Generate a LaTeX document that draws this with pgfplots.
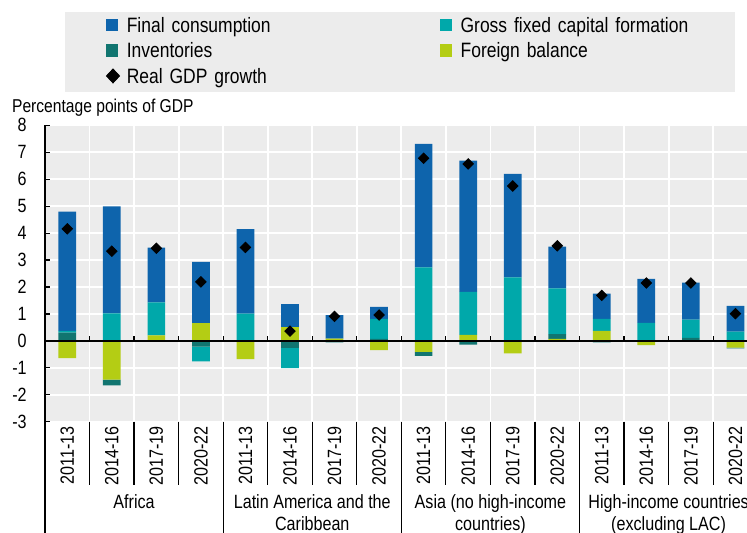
\documentclass[border=0pt]{standalone}
\usepackage{fontspec}
\setmainfont{Liberation Sans}[FakeStretch=0.84]
\usepackage{pgfplots}
\usepackage{pgfplotstable}
\pgfplotsset{compat=1.18}

\definecolor{fcblue}{HTML}{0E64AC}
\definecolor{gfcfteal}{HTML}{00A8AA}
\definecolor{invteal}{HTML}{117570}
\definecolor{fbgreen}{HTML}{B4CD14}
\definecolor{panelgray}{HTML}{ECECEC}

% contributions split into positive and negative parts (separate stacks)
\pgfplotstableread{
x  FCp  GFCFp GFCFn Invp Invn  FBp  FBn   GDP
0  4.43 0.06  0     0.31 0     0    -0.64 4.16
1  3.97 1.02  0     0    -0.21 0    -1.44 3.33
2  2.03 1.23  0     0    0     0.20 0     3.44
3  2.27 0     -0.55 0    -0.21 0.66 0     2.19
4  3.14 1.01  0     0    0     0    -0.68 3.47
5  0.85 0     -0.75 0    -0.26 0.51 0     0.36
6  0.88 0     0     0    -0.06 0.08 0     0.91
7  0.44 0.75  0     0.07 0     0    -0.34 0.96
8  4.58 2.73  0     0    -0.15 0    -0.41 6.78
9  4.87 1.60  0     0    -0.14 0.22 0     6.57
10 3.84 2.36  0     0    0     0    -0.46 5.75
11 1.55 1.70  0     0.18 0     0.07 0     3.53
12 0.93 0.45  0     0    -0.06 0.37 0     1.69
13 1.63 0.67  0     0    0     0    -0.16 2.15
14 1.37 0.68  0     0.11 0     0    0     2.15
15 0.96 0.34  0     0    -0.03 0    -0.25 1.01
}\data

\newcommand{\lab}{\fontsize{9.6}{11}\selectfont}
\newcommand{\leg}{\fontsize{10.4}{12}\selectfont}
\pgfplotsset{
  base/.style={scale only axis, width=351pt, height=148.15pt,
    xmin=-0.5, xmax=15.26, ymin=-3, ymax=8,
    at={(0pt,0pt)}, anchor=south west},
}

\begin{document}
\begin{tikzpicture}[font=\lab]
\fill[panelgray] (10pt,164.85pt) rectangle (345pt,204.85pt);
\node[anchor=base west, inner sep=0pt, font=\fontsize{9.3}{11}\selectfont] at (-16.65pt,154.35pt) {Percentage points of GDP};

% panel, grid, ticks and positive parts
\begin{axis}[base, ybar stacked, bar width=8.85pt,
  axis background/.style={fill=panelgray},
  axis line style={draw=none},
  xtick={0,...,15},
  xticklabels={2011-13,2014-16,2017-19,2020-22,2011-13,2014-16,2017-19,2020-22,
               2011-13,2014-16,2017-19,2020-22,2011-13,2014-16,2017-19,2020-22},
  xticklabel style={rotate=90, anchor=east, inner sep=2.2pt, font=\lab},
  xtick style={draw=none},
  minor xtick={-0.5,0.5,...,14.5},
  xminorgrids, ymajorgrids,
  minor tick length=0pt,
  minor grid style={white, line width=0.9pt},
  major grid style={white, line width=0.9pt},
  ytick={-3,...,8},
  yticklabels={-3,-2,-1,0,1,2,3,4,5,6,7,8},
  yticklabel style={anchor=east, inner sep=0pt, xshift=-9pt, font=\lab},
  tick pos=left, tick align=inside, major tick length=2.5pt,
  ytick style={black, line width=0.6pt},
]
\addplot[fill=fbgreen, draw=none] table[x=x,y=FBp]{\data};
\addplot[fill=invteal, draw=none] table[x=x,y=Invp]{\data};
\addplot[fill=gfcfteal, draw=none] table[x=x,y=GFCFp]{\data};
\addplot[fill=fcblue, draw=none] table[x=x,y=FCp]{\data};
\end{axis}

% negative parts
\begin{axis}[base, ybar stacked, bar width=8.85pt, hide axis]
\addplot[fill=fbgreen, draw=none] table[x=x,y=FBn]{\data};
\addplot[fill=invteal, draw=none] table[x=x,y=Invn]{\data};
\addplot[fill=gfcfteal, draw=none] table[x=x,y=GFCFn]{\data};
\end{axis}

% axis lines, separators, group labels, GDP markers, legend
\begin{axis}[base, hide axis, clip=false,
  legend columns=2,
  legend cell align=left,
  legend style={at={(0.0869,1.3642)}, anchor=north west, draw=none, fill=none,
    inner sep=0pt, outer sep=0pt, row sep=5.25pt,
    nodes={inner sep=0pt, text height=7.5pt, text depth=0pt,
           text width=156.5pt, align=left, font=\leg}},
]
\addlegendimage{legend image code/.code={\fill[fcblue] (0pt,-2.8pt) rectangle (5.6pt,2.8pt); \path (10pt,0pt);}}
\addlegendentry{Final consumption}
\addlegendimage{legend image code/.code={\fill[gfcfteal] (0pt,-2.8pt) rectangle (5.6pt,2.8pt); \path (10pt,0pt);}}
\addlegendentry{Gross fixed capital formation}
\addlegendimage{legend image code/.code={\fill[invteal] (0pt,-2.8pt) rectangle (5.6pt,2.8pt); \path (10pt,0pt);}}
\addlegendentry{Inventories}
\addlegendimage{legend image code/.code={\fill[fbgreen] (0pt,-2.8pt) rectangle (5.6pt,2.8pt); \path (10pt,0pt);}}
\addlegendentry{Foreign balance}
\addlegendimage{legend image code/.code={\fill[black] (0pt,0pt) -- (3.3pt,3.5pt) -- (6.6pt,0pt) -- (3.3pt,-3.5pt) -- cycle; \path (10pt,0pt);}}
\addlegendentry{Real GDP growth}

\draw[black, line width=0.9pt] (axis cs:-0.5,0) -- (axis cs:15.26,0);
\pgfplotsinvokeforeach{0.5,1.5,2.5,3.5,4.5,5.5,6.5,7.5,8.5,9.5,10.5,11.5,12.5,13.5,14.5}{
  \draw[black, line width=0.6pt] (axis cs:#1,0) -- ++(0pt,2.5pt);
}
\pgfplotsinvokeforeach{0.5,1.5,2.5,4.5,5.5,6.5,8.5,9.5,10.5,12.5,13.5,14.5}{
  \draw[black, line width=0.6pt] (axis cs:#1,-3) -- ++(0pt,-31.7pt);
}
\pgfplotsinvokeforeach{3.5,7.5,11.5}{
  \draw[black, line width=0.6pt] (axis cs:#1,-3) -- ++(0pt,-56pt);
}
\draw[black, line width=0.8pt] (axis cs:-0.5,8) -- (axis cs:-0.5,-3) -- ++(0pt,-56pt);

\node[anchor=north, align=center, inner sep=0pt, font=\lab] at (axis cs:1.5,-3) [yshift=-36.4pt] {Africa};
\node[anchor=north, align=center, inner sep=0pt, font=\lab] at (axis cs:5.5,-3) [yshift=-36.4pt] {Latin America and the\\Caribbean};
\node[anchor=north, align=center, inner sep=0pt, font=\lab] at (axis cs:9.5,-3) [yshift=-36.4pt] {Asia (no high-income\\countries)};
\node[anchor=north, align=center, inner sep=0pt, font=\lab] at (axis cs:13.5,-3) [yshift=-36.4pt] {High-income countries\\(excluding LAC)};

\addplot[only marks, mark=square*, mark size=1.85pt,
  mark options={rotate=45, fill=black, draw=black}, forget plot]
  table[x=x,y=GDP]{\data};
\end{axis}

\pgfresetboundingbox
\useasboundingbox (-22.5pt,-55.65pt) rectangle (351pt,210.85pt);
\end{tikzpicture}
\end{document}
